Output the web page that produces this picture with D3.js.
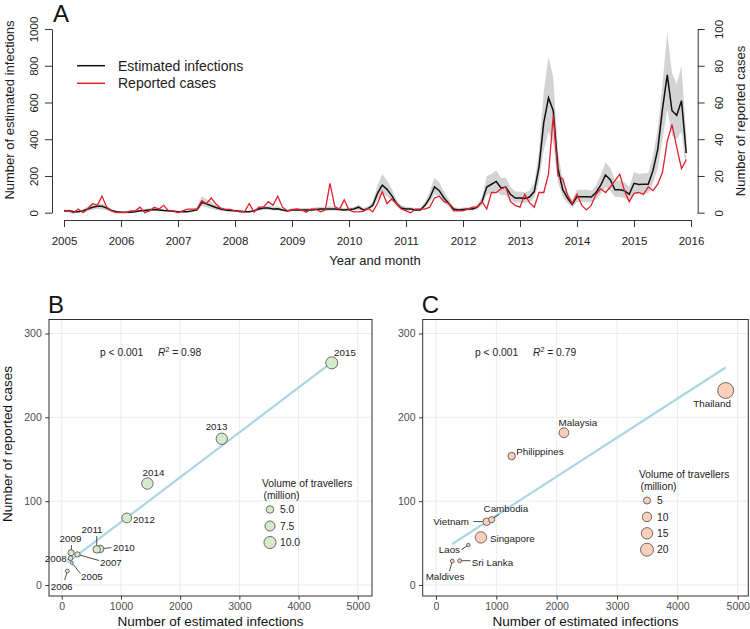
<!DOCTYPE html>
<html><head><meta charset="utf-8">
<script src="https://cdn.jsdelivr.net/npm/d3@7"></script>
<style>
body{margin:0;background:#fff}
svg{display:block}
text{font-family:"Liberation Sans",Arial,Helvetica,sans-serif}
</style>
</head><body>
<svg id="chart" width="750" height="629"></svg>
<script>
// ---------------- DATA ----------------
const yearTicks = [2005,2006,2007,2008,2009,2010,2011,2012,2013,2014,2015,2016];
const leftTicks = [0,200,400,600,800,1000];
const rightTicks = [0,20,40,60,80,100];

// monthly, Jan 2005 .. Dec 2015
const estimated = [
 10,10,5,5,10,20,30,35,35,25,12,5,
 3,2,2,5,10,12,15,18,15,12,10,8,
 5,5,5,10,15,55,48,38,28,20,15,12,
 10,8,5,5,10,20,25,25,20,22,15,10,
 15,15,15,15,15,18,20,20,20,20,18,15,
 18,20,30,15,22,40,105,150,127,93,50,25,
 20,20,15,15,40,80,140,120,80,50,20,15,
 18,20,20,30,60,140,155,170,135,140,100,80,
 80,78,85,115,250,490,625,555,240,125,80,45,
 87,87,87,85,110,150,205,180,125,125,120,100,
 160,153,155,155,230,345,565,750,555,530,610,325
];
const estLower = [
 2,2,0,0,3,8,15,20,18,12,5,2,
 0,0,0,2,5,6,8,10,8,6,5,3,
 2,2,2,5,8,35,30,22,15,10,8,6,
 5,3,2,2,5,10,15,15,12,12,8,5,
 8,8,8,8,8,10,10,10,10,10,10,8,
 10,12,15,8,12,25,70,105,90,62,32,15,
 12,12,8,8,25,55,100,85,55,32,12,8,
 10,12,12,18,40,95,110,120,95,95,68,55,
 55,52,58,78,170,340,440,380,165,85,52,28,
 58,58,58,55,75,100,140,120,85,85,80,65,
 110,105,105,105,160,240,400,560,420,400,440,220
];
const estUpper = [
 18,18,12,12,20,35,45,50,50,38,20,10,
 8,5,5,10,18,20,25,28,25,20,18,15,
 10,10,10,18,30,90,75,58,42,32,25,20,
 18,15,10,10,18,30,38,38,32,35,25,18,
 25,25,25,25,25,30,32,32,35,32,30,25,
 28,30,45,25,35,60,150,210,175,130,72,40,
 32,30,25,25,60,115,190,165,115,72,32,25,
 28,30,30,45,85,200,210,230,190,190,140,115,
 115,110,120,160,340,660,846,740,330,175,115,70,
 125,125,125,120,150,205,275,245,175,175,165,140,
 220,210,215,215,310,460,700,980,760,700,800,420
];
const reported = [
 1,1,0,2,0,2,5,4,9,3,1,0,
 0,0,1,1,3,0,1,3,2,4,1,1,
 0,1,2,2,2,6.5,5,8,4.7,2.4,1.8,1.8,
 1,0.5,0.5,5,0.3,3,3,6,4,9,3,1,
 1.5,2,1.5,0.3,2,2,0.5,1.5,16,3.3,1.8,7,
 1.5,0.5,0.5,0.7,2.4,0.5,5,11.4,5,7.5,5,2,
 1,0,2,2,2,3,8,9,6,5,1,1,
 1,2,3,3,6,2,11,11,13,14,6,4,
 3,10,5.5,3,11,11,21,53,20,18.5,9.6,5,
 10,4,1.5,4,10,13,11,14,17.5,21,12,6,
 10.5,11,10,14,12,15.5,22,39,48,35.5,24,29
];

// Panel B: by year
const yearsB = ["2005","2006","2007","2008","2009","2010","2011","2012","2013","2014","2015"];
const infB   = [170, 95, 265, 150, 158, 648, 591, 1098, 2703, 1447, 4560];
const casesB = [26.6, 16.7, 36.5, 32, 38.5, 43, 42.5, 80, 174.4, 121, 265];
const travB  = [2.3, 2.7, 3.4, 3.0, 3.95, 5.0, 5.0, 7.2, 9.1, 9.1, 11.3];
const fitB = {intercept: 21.5, slope: 0.0535};
const statsB = ["p < 0.001", "0.98"];
const legendB = [5.0, 7.5, 10.0];

// Panel C: by country
const countries = ["Thailand","Malaysia","Philippines","Cambodia","Vietnam","Singapore","Laos","Sri Lanka","Maldives"];
const infC   = [4800, 2120, 1254, 922, 840, 745, 536, 392, 270];
const casesC = [232, 181.6, 153.8, 78, 75.5, 56.8, 47.7, 29, 28.6];
const travC  = [30.8, 10.8, 5.8, 3.5, 5.8, 15.1, 0.2, 0.6, 0.6];
const fitC = {intercept: 36.35, slope: 0.04647};
const statsC = ["p < 0.001", "0.79"];
const legendC = [5, 10, 15, 20];

const xTicksBC = [0,1000,2000,3000,4000,5000];
const yTicksBC = [0,100,200,300];

// label layout (pixel offsets from point: dx, dy, anchor, segment end sx, sy)
const labelLayoutB = [
 [9.2,17.3,"start",8.7,10.8],   // 2005
 [-5.7,19,"middle",-2.7,9],     // 2006
 [22.6,11.6,"start",21.6,6.1],  // 2007
 [-4,4,"end",-3,1.5],           // 2008
 [-0.6,-10.7,"middle",0.4,-7.7],// 2009
 [12.9,2.1,"start",11.4,-1.4],  // 2010
 [-4.7,-16.3,"middle",0,-13.3], // 2011
 [6.3,5.1,"start",null,null],   // 2012
 [-5.2,-8.7,"middle",null,null],// 2013
 [6.1,-7.5,"middle",null,null], // 2014
 [2.3,-6.7,"start",null,null]   // 2015
];
const labelLayoutC = [
 [-13.6,16.6,"middle",null,null], // Thailand
 [14,-6.6,"middle",null,null],    // Malaysia
 [4.5,-1,"start",null,null],      // Philippines
 [14.3,-7.6,"middle",7.3,-5.3],   // Cambodia
 [-17.7,3.3,"end",-13.2,-0.2],    // Vietnam
 [9,4.7,"start",null,null],       // Singapore
 [-8.3,8,"end",-6.8,4.5],         // Laos
 [12.1,5.3,"start",10.9,0],       // Sri Lanka
 [-7.3,19,"middle",-2.8,10]       // Maldives
];

// ---------------- DRAW ----------------
const svg = d3.select("#chart");
svg.append("rect").attr("width",750).attr("height",629).attr("fill","#fff");

// ===== Panel A =====
const gA = svg.append("g");
const xA = d3.scaleLinear().domain([2005,2016]).range([64,691]);
const yL = d3.scaleLinear().domain([0,1000]).range([212.7,29]);
const yR = d3.scaleLinear().domain([0,100]).range([212.7,29]);
const tMonth = i => 2005 + i/12;

gA.append("path")
  .attr("d", d3.area().x((d,i)=>xA(tMonth(i))).y0((d,i)=>yL(estLower[i])).y1((d,i)=>yL(estUpper[i]))(estimated))
  .attr("fill","#d3d3d3").attr("stroke","none");
gA.append("path")
  .attr("d", d3.line().x((d,i)=>xA(tMonth(i))).y(d=>yL(d))(estimated))
  .attr("fill","none").attr("stroke","#111").attr("stroke-width",1.5);
gA.append("path")
  .attr("d", d3.line().x((d,i)=>xA(tMonth(i))).y(d=>yR(d))(reported))
  .attr("fill","none").attr("stroke","#e0202b").attr("stroke-width",1.3);

const axA = gA.append("g").attr("transform","translate(0,220)")
  .call(d3.axisBottom(xA).tickValues(yearTicks).tickFormat(d3.format("d")).tickSize(7).tickSizeOuter(0).tickPadding(9.5));
axA.selectAll("text").attr("font-size","11.5px").attr("fill","#222");

const alA = gA.append("g").attr("transform","translate(52,0)")
  .call(d3.axisLeft(yL).tickValues(leftTicks).tickFormat(d3.format("d")).tickSize(7).tickSizeOuter(0));
alA.selectAll("text").attr("transform","rotate(-90)").attr("x",0).attr("y",-14).attr("dy",0)
  .attr("text-anchor","middle").attr("font-size","11.5px").attr("fill","#222");

const arA = gA.append("g").attr("transform","translate(697.7,0)")
  .call(d3.axisRight(yR).tickValues(rightTicks).tickFormat(d3.format("d")).tickSize(7).tickSizeOuter(0));
arA.selectAll("text").attr("transform","rotate(-90)").attr("x",0).attr("y",25.3).attr("dy",0)
  .attr("text-anchor","middle").attr("font-size","11.5px").attr("fill","#222");

[axA,alA,arA].forEach(a=>{a.selectAll("path,line").attr("stroke","#333");});

gA.append("text").attr("transform","translate(14,110) rotate(-90)").attr("text-anchor","middle")
  .attr("font-size","13px").attr("fill","#222").text("Number of estimated infections");
gA.append("text").attr("transform","translate(744.5,121) rotate(-90)").attr("text-anchor","middle")
  .attr("font-size","13px").attr("fill","#222").text("Number of reported cases");
gA.append("text").attr("x",375).attr("y",265).attr("text-anchor","middle")
  .attr("font-size","13px").attr("fill","#222").text("Year and month");
gA.append("text").attr("x",53).attr("y",22).attr("font-size","24px").attr("fill","#111").text("A");

// legend A
const legA = [["Estimated infections","#111",65.7],["Reported cases","#e0202b",83.3]];
legA.forEach(([lab,col,y])=>{
  gA.append("line").attr("x1",77).attr("x2",105).attr("y1",y).attr("y2",y).attr("stroke",col).attr("stroke-width",1.5);
  gA.append("text").attr("x",118).attr("y",y+5).attr("font-size","14px").attr("fill","#222").text(lab);
});

// ===== Panels B and C =====
function scatterPanel(o){
  const g = svg.append("g");
  const x = d3.scaleLinear().domain(o.xDomain).range([o.left,o.right]);
  const y = d3.scaleLinear().domain([-13.1,316.7]).range([596,319.5]);
  // grid
  g.selectAll(".gx").data(xTicksBC).enter().append("line")
    .attr("x1",d=>x(d)).attr("x2",d=>x(d)).attr("y1",319.5).attr("y2",596)
    .attr("stroke","#ebebeb").attr("stroke-width",1);
  g.selectAll(".gy").data(yTicksBC).enter().append("line")
    .attr("x1",o.left).attr("x2",o.right).attr("y1",d=>y(d)).attr("y2",d=>y(d))
    .attr("stroke","#ebebeb").attr("stroke-width",1);
  // regression line
  const x0 = d3.min(o.xs), x1 = d3.max(o.xs);
  g.append("line").attr("x1",x(x0)).attr("y1",y(o.fit.intercept+o.fit.slope*x0))
    .attr("x2",x(x1)).attr("y2",y(o.fit.intercept+o.fit.slope*x1))
    .attr("stroke","#a9d6e3").attr("stroke-width",2.2);
  // segments
  o.xs.forEach((v,i)=>{
    const L = o.layout[i];
    if (L[3]!==null){
      g.append("line").attr("x1",x(v)).attr("y1",y(o.ys[i]))
        .attr("x2",x(v)+L[3]).attr("y2",y(o.ys[i])+L[4])
        .attr("stroke","#222").attr("stroke-width",0.8);
    }
  });
  // points
  const order = d3.range(o.xs.length).sort((a,b)=>o.ts[b]-o.ts[a]);
  order.forEach(i=>{
    g.append("circle").attr("cx",x(o.xs[i])).attr("cy",y(o.ys[i])).attr("r",o.rad(o.ts[i]))
      .attr("fill",o.fill).attr("stroke","#333").attr("stroke-width",0.7);
  });
  // labels
  o.xs.forEach((v,i)=>{
    const L = o.layout[i];
    g.append("text").attr("x",x(v)+L[0]).attr("y",y(o.ys[i])+L[1]).attr("text-anchor",L[2])
      .attr("font-size","9.8px").attr("fill","#222").text(o.names[i]);
  });
  // frame
  g.append("rect").attr("x",o.left).attr("y",319.5).attr("width",o.right-o.left).attr("height",596-319.5)
    .attr("fill","none").attr("stroke","#333").attr("stroke-width",1);
  // axes ticks
  const ax = g.append("g").attr("transform","translate(0,596)")
    .call(d3.axisBottom(x).tickValues(xTicksBC).tickSize(3.7).tickSizeOuter(0).tickPadding(2.5).tickFormat(d3.format("d")));
  ax.select(".domain").remove();
  ax.selectAll("line").attr("stroke","#333");
  ax.selectAll("text").attr("font-size","10.5px").attr("fill","#4d4d4d");
  const ay = g.append("g").attr("transform",`translate(${o.left},0)`)
    .call(d3.axisLeft(y).tickValues(yTicksBC).tickSize(3.7).tickSizeOuter(0).tickPadding(3.5));
  ay.select(".domain").remove();
  ay.selectAll("line").attr("stroke","#333");
  ay.selectAll("text").attr("font-size","10.5px").attr("fill","#4d4d4d");
  // titles
  g.append("text").attr("x",(o.left+o.right)/2).attr("y",626).attr("text-anchor","middle")
    .attr("font-size","13.5px").attr("fill","#111").text("Number of estimated infections");
  if (o.yTitle){
    g.append("text").attr("transform","translate(12,444) rotate(-90)").attr("text-anchor","middle")
      .attr("font-size","13.5px").attr("fill","#111").text(o.yTitle);
  }
  g.append("text").attr("x",o.left-1).attr("y",313).attr("font-size","24px").attr("fill","#111").text(o.letter);
  // stats
  g.append("text").attr("x",o.statX).attr("y",356).attr("font-size","10.3px").attr("fill","#222").text(o.stats[0]);
  const r2 = g.append("text").attr("x",o.statX+58).attr("y",356).attr("font-size","10.3px").attr("fill","#222");
  r2.append("tspan").attr("font-style","italic").text("R");
  r2.append("tspan").attr("dy",-4).attr("font-size","7px").text("2");
  r2.append("tspan").attr("dy",4).text(" = " + o.stats[1]);
  // legend
  g.append("text").attr("x",o.legX).attr("y",o.legY).attr("font-size","10.3px").attr("fill","#222").text("Volume of travellers");
  g.append("text").attr("x",o.legX+1.5).attr("y",o.legY+11.5).attr("font-size","10.3px").attr("fill","#222").text("(million)");
  o.legVals.forEach((v,k)=>{
    const cy = o.legY + 22.5 + k*o.legStep;
    g.append("circle").attr("cx",o.legX+8).attr("cy",cy).attr("r",o.rad(v))
      .attr("fill",o.fill).attr("stroke","#333").attr("stroke-width",0.7);
    g.append("text").attr("x",o.legX+18).attr("y",cy+3.6).attr("font-size","10.3px").attr("fill","#222").text(o.legFmt(v));
  });
}

const areaB = d3.scaleLinear().domain([2,10]).range([0.8,36.5]).clamp(true);
const areaC = d3.scaleLinear().domain([0,20]).range([2.6,42.3]);

scatterPanel({
  left:49, right:372, xDomain:[-215,5240],
  xs:infB, ys:casesB, ts:travB, names:yearsB, layout:labelLayoutB,
  fit:fitB, fill:"#d7eacc", rad:v=>Math.sqrt(areaB(v)),
  yTitle:"Number of reported cases", letter:"B", stats:statsB, statX:100,
  legX:262, legY:487, legVals:legendB, legStep:16.5, legFmt:d3.format(".1f")
});
scatterPanel({
  left:422.7, right:748.3, xDomain:[-220,5175],
  xs:infC, ys:casesC, ts:travC, names:countries, layout:labelLayoutC,
  fit:fitC, fill:"#fbcfbb", rad:v=>Math.sqrt(areaC(v)),
  yTitle:null, letter:"C", stats:statsC, statX:475,
  legX:639, legY:478, legVals:legendC, legStep:16.4, legFmt:d3.format("d")
});
</script>
</body></html>
